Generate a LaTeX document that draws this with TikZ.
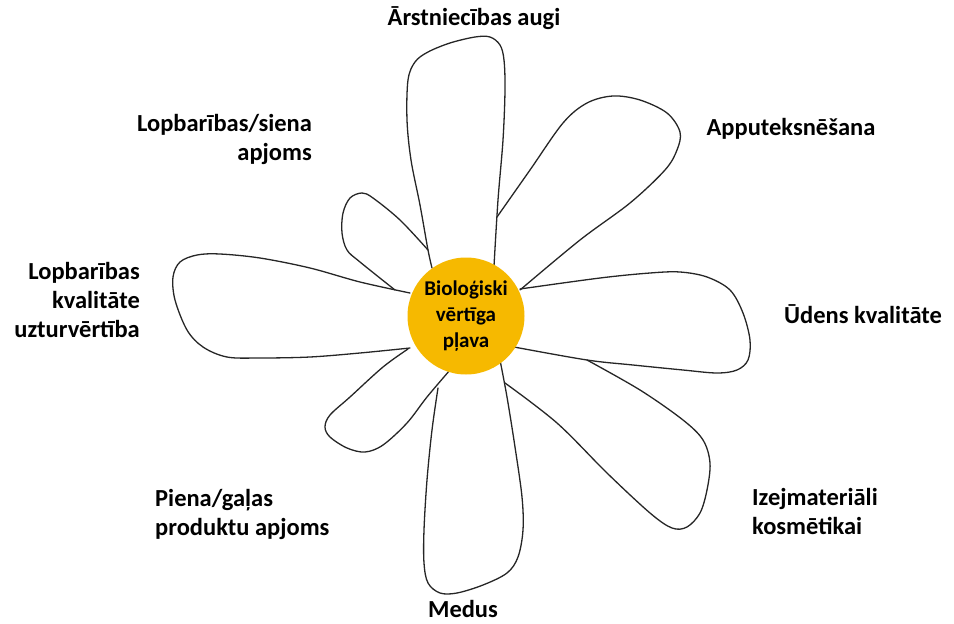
\documentclass[tikz,border=0pt]{standalone}
\usepackage{fontspec}
\setmainfont{Carlito}
\usepackage{tikz}
\usetikzlibrary{positioning}
\definecolor{daisygold}{RGB}{246,185,0}
\tikzset{
	petal/.style={draw=black!85, line width=1.3pt, line join=round, line cap=round},
	lbl/.style={font=\bfseries\fontsize{24.5}{29}\selectfont, inner sep=0pt},
	core/.style={circle, fill=daisygold, minimum size=117pt, inner sep=0pt, align=center,
		font=\bfseries\fontsize{21}{26}\selectfont},
}

\begin{document}
\begin{tikzpicture}[x=1pt, y=-1pt]
		\useasboundingbox (0,0) rectangle (954,624);
		\draw[petal] plot[smooth, tension=0.55] coordinates {(428,250) (400,220) (373,198) (362,193) (350,198) (343,213) (342,233) (347,250) (360,262) (395,290)};
		\draw[petal] plot[smooth, tension=0.55] coordinates {(432,268) (428,250) (420,205) (411,160) (407,120) (408,80) (415,62) (428,52) (450,43) (475,37) (490,37) (500,45) (504,60) (505,90) (503,140) (498,200) (494,266)};
		\draw[petal] plot[smooth, tension=0.55] coordinates {(497,217) (530,170) (563,123) (587,103) (613,96) (640,100) (667,113) (680,132) (677,150) (665,170) (630,203) (580,240) (520,290)};
		\draw[petal] plot[smooth, tension=0.55] coordinates {(520,289) (600,278) (650,273) (680,272) (707,277) (730,290) (743,313) (750,340) (748,360) (737,370) (717,373) (683,370) (633,365) (587,360) (514,347)};
		\draw[petal] plot[smooth, tension=0.55] coordinates {(587,360) (640,390) (683,420) (703,440) (710,463) (707,490) (700,513) (687,527) (672,528) (650,513) (607,473) (557,423) (505,383)};
		\draw[petal] plot[smooth, tension=0.55] coordinates {(438,388) (432,430) (427,480) (424,530) (424,563) (428,583) (440,593) (457,593) (483,585) (507,573) (518,557) (523,530) (522,497) (515,447) (507,397) (500,360)};
		\draw[petal] plot[smooth, tension=0.55] coordinates {(408,349) (383,367) (350,397) (330,415) (325,427) (330,437) (347,448) (365,452) (383,445) (407,423) (427,397) (450,370)};
		\draw[petal] plot[smooth, tension=0.55] coordinates {(410,293) (360,282) (310,268) (260,258) (220,254) (197,255) (180,262) (173,277) (175,300) (187,330) (203,347) (227,357) (260,358) (310,357) (360,353) (410,348)};
		\node[core] (meadow) at (466,316) {Bioloģiski\\vērtīga\\pļava};
		\node[lbl] (herbs) at (474,18) {Ārstniecības augi};
		\node[lbl] (pollination) at (791,129) {Apputeksnēšana};
		\node[lbl] (water) at (863,314) {Ūdens kvalitāte};
		\node[lbl, anchor=west, align=left] (cosmetics) at (752,511) {Izejmateriāli\\kosmētikai};
		\node[lbl] (honey) at (463,609) {Medus};
		\node[lbl, anchor=west, align=left] (milk) at (155,514) {Piena/gaļas\\produktu apjoms};
		\node[lbl, anchor=east, align=right] (feedquality) at (140,300) {Lopbarības\\kvalitāte\\uzturvērtība};
		\node[lbl, anchor=east, align=right] (hay) at (312,139) {Lopbarības/siena\\apjoms};
\end{tikzpicture}
\end{document}
